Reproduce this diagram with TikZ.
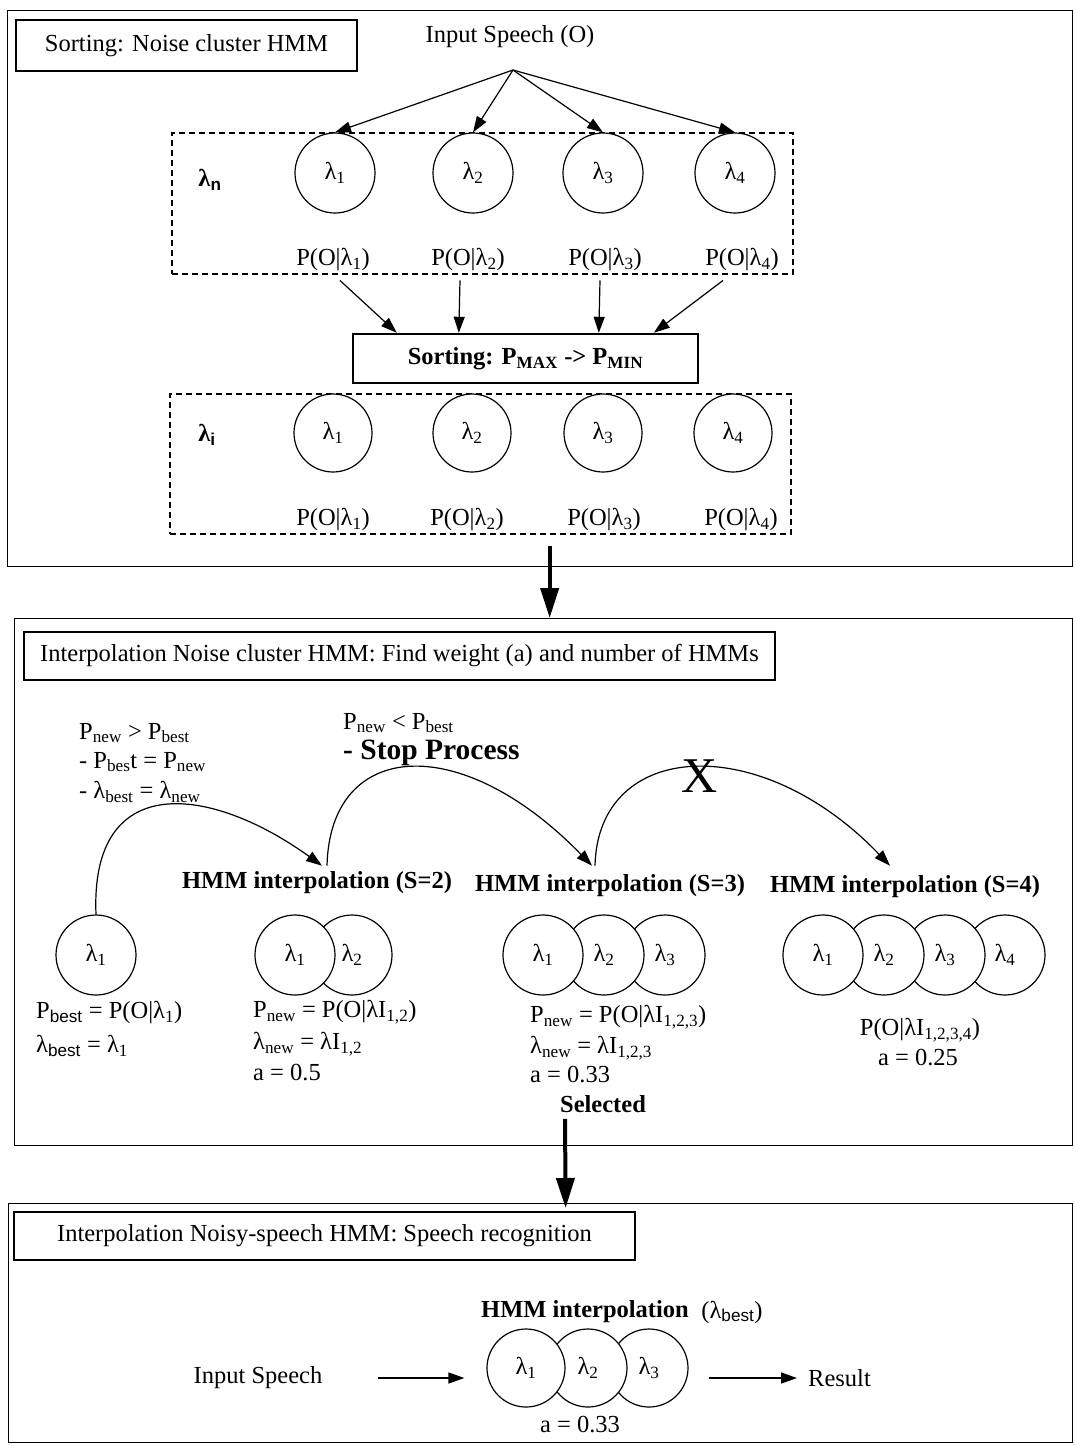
\documentclass[tikz,border=0pt]{standalone}
\usepackage{fontspec}
\setmainfont{Liberation Serif}
\setsansfont{Liberation Sans}
\usetikzlibrary{arrows.meta}
\newcommand\sub[1]{\textsubscript{#1}}
\newcommand\ssub[1]{\textsubscript{\sffamily #1}}
\newcommand\basefont{\fontsize{24.5}{29}\selectfont}

\begin{document}
\begin{tikzpicture}[x=1pt,y=-1pt,
  font=\basefont,
  every node/.style={inner sep=0pt},
  sec/.style={draw, line width=1.3pt, anchor=north west},
  titlebox/.style={draw, line width=2.4pt},
  dbox/.style={draw, dash pattern=on 6pt off 4pt, line width=1.2pt},
  hmm/.style={circle, draw, fill=white, line width=1.2pt, minimum size=80pt},
  lbl/.style={anchor=west},
  heading/.style={font=\basefont\bfseries},
  conn/.style={-{Triangle[length=16pt,width=11pt]}, line width=1.2pt},
  bigconn/.style={-{Triangle[length=30pt,width=18pt]}, line width=4pt}]

\fill[white] (0,0) rectangle (1074,1446);
\useasboundingbox (0,0) rectangle (1074,1446);

% ---------- Section 1: sorting the noise cluster HMMs ----------
\node[sec, minimum width=1065pt, minimum height=556pt] (sec1) at (7,10) {};
\node[titlebox, minimum width=341pt, minimum height=51pt] (t1) at (186.5,45.5) {Sorting: Noise cluster HMM};
\node (inspeech) at (510,37) {Input Speech (O)};
\coordinate (src) at (513,70);

\node[dbox, minimum width=621pt, minimum height=141pt] (rowa) at (482.5,203.5) {};
\node[font=\basefont\bfseries] (lamn) at (210,180) {λ\textsubscript{\sffamily n}};
\node[hmm] (na1) at (335,173) {λ\sub{1}};
\node[hmm] (na2) at (473,173) {λ\sub{2}};
\node[hmm] (na3) at (603,173) {λ\sub{3}};
\node[hmm] (na4) at (735,173) {λ\sub{4}};
\node (pa1) at (333,260) {P(O|λ\sub{1})};
\node (pa2) at (468,260) {P(O|λ\sub{2})};
\node (pa3) at (605,260) {P(O|λ\sub{3})};
\node (pa4) at (742,260) {P(O|λ\sub{4})};

\foreach \n in {na1,na2,na3,na4} \draw[conn] (src) -- (\n.north);

\node[titlebox, minimum width=345pt, minimum height=49pt, font=\basefont\bfseries] (sort) at (525.5,358.5)
  {Sorting: P\sub{MAX} -> P\sub{MIN}};

\draw[conn] ([xshift=7pt,yshift=-9pt]pa1.south) -- ([xshift=45pt]sort.north west);
\draw[conn] ([xshift=-8pt,yshift=-9pt]pa2.south) -- ([xshift=107pt]sort.north west);
\draw[conn] ([xshift=-5pt,yshift=-9pt]pa3.south) -- ([xshift=247pt]sort.north west);
\draw[conn] ([xshift=-19pt,yshift=-9pt]pa4.south) -- ([xshift=302pt]sort.north west);

\node[dbox, minimum width=621pt, minimum height=140pt] (rowb) at (480.5,464) {};
\node[font=\basefont\bfseries] (lami) at (207,435) {λ\textsubscript{\sffamily i}};
\node[hmm, minimum size=78pt] (nb1) at (333,433) {λ\sub{1}};
\node[hmm, minimum size=78pt] (nb2) at (472,433) {λ\sub{2}};
\node[hmm, minimum size=78pt] (nb3) at (603,433) {λ\sub{3}};
\node[hmm, minimum size=78pt] (nb4) at (733,433) {λ\sub{4}};
\node (pb1) at (333,520) {P(O|λ\sub{1})};
\node (pb2) at (467,520) {P(O|λ\sub{2})};
\node (pb3) at (604,520) {P(O|λ\sub{3})};
\node (pb4) at (741,520) {P(O|λ\sub{4})};

% ---------- Section 2: interpolation of noise cluster HMMs ----------
\node[sec, minimum width=1058pt, minimum height=527pt] (sec2) at (14,618) {};
\draw[bigconn] ([xshift=9.5pt,yshift=21pt]sec1.south) -- ([xshift=6pt]sec2.north);
\node[titlebox, minimum width=751pt, minimum height=48pt] (t2) at (399.5,656)
  {Interpolation Noise cluster HMM: Find weight (a) and number of HMMs};

\node[lbl] (c1) at (79,733) {P\sub{new} > P\sub{best}};
\node[lbl] (c2) at (79,762) {- P\sub{bes}t = P\sub{new}};
\node[lbl] (c3) at (79,792) {- λ\sub{best} = λ\sub{new}};
\node[lbl] (s1) at (343,723) {P\sub{new} < P\sub{best}};
\node[lbl, font=\fontsize{29.5}{34}\selectfont\bfseries] (s2) at (343,753) {- Stop Process};

\node[heading] (h2) at (317,883) {HMM interpolation (S=2)};
\node[heading] (h3) at (610,886) {HMM interpolation (S=3)};
\node[heading] (h4) at (905,887) {HMM interpolation (S=4)};

% single model
\node[hmm] (sg) at (96,955) {λ\sub{1}};
% S = 2 (each circle drawn over the one to its right)
\node[hmm] (e2) at (352,955) {λ\sub{2}};
\node[hmm] (e1) at (295,955) {λ\sub{1}};
% S = 3
\node[hmm] (f3) at (665,955) {λ\sub{3}};
\node[hmm] (f2) at (604,955) {λ\sub{2}};
\node[hmm] (f1) at (543,955) {λ\sub{1}};
% S = 4
\node[hmm] (g4) at (1005,955) {λ\sub{4}};
\node[hmm] (g3) at (945,955) {λ\sub{3}};
\node[hmm] (g2) at (884,955) {λ\sub{2}};
\node[hmm] (g1) at (823,955) {λ\sub{1}};

% iteration arcs
\draw[conn] (sg.north) .. controls (90,770) and (210,785) .. ([xshift=5pt,yshift=6pt]h2.north);
\draw[conn] ([xshift=10pt,yshift=6pt]h2.north) .. controls (330,740) and (460,730) .. ([xshift=-18pt,yshift=9pt]h3.north);
\draw[conn] ([xshift=-15pt,yshift=9pt]h3.north) .. controls (598,740) and (760,730) .. ([xshift=-15pt,yshift=10pt]h4.north);
\node[font=\fontsize{50}{50}\selectfont] (xmark) at (700,776) {X};

\node[lbl] (q1) at (36,1013) {P\ssub{best} =  P(O|λ\sub{1})};
\node[lbl] (q2) at (36,1046) {λ\ssub{best} = λ\sub{1}};
\node[lbl] (r1) at (253,1012) {P\sub{new} = P(O|λI\sub{1,2})};
\node[lbl] (r2) at (253,1044) {λ\sub{new} = λI\sub{1,2}};
\node[lbl] (r3) at (253,1073) {a = 0.5};
\node[lbl] (u1) at (530,1017) {P\sub{new} = P(O|λI\sub{1,2,3})};
\node[lbl] (u2) at (530,1048) {λ\sub{new} = λI\sub{1,2,3}};
\node[lbl] (u3) at (530,1075) {a = 0.33};
\node (v1) at (920,1030) {P(O|λI\sub{1,2,3,4})};
\node (v2) at (918,1058) {a = 0.25};
\node[heading] (sel) at (603,1104) {Selected};

% ---------- Section 3: speech recognition ----------
\node[sec, minimum width=1064pt, minimum height=239pt] (sec3) at (8,1203) {};
\node[titlebox, minimum width=621pt, minimum height=48pt] (t3) at (324.5,1236)
  {Interpolation Noisy-speech HMM: Speech recognition};
\draw[bigconn] ([xshift=-38pt,yshift=-6pt]sel.south) -- ([xshift=25pt,yshift=-5pt]sec3.north);

\node[heading] (hb) at (585,1312) {HMM interpolation};
\node (hbl) at (732,1312) {(λ\ssub{best})};
\node[hmm, minimum size=78pt] (k3) at (649,1368) {λ\sub{3}};
\node[hmm, minimum size=78pt] (k2) at (588,1368) {λ\sub{2}};
\node[hmm, minimum size=78pt] (k1) at (526,1368) {λ\sub{1}};
\node (in2) at (258,1378) {Input Speech};
\node[lbl] (res) at (808,1378) {Result};
\node (aa) at (580,1425) {a = 0.33};

% horizontal flow through the selected model
\coordinate (k1in) at (in2.east -| k1.west);
\coordinate (k3out) at (res.west -| k3.east);
\draw[conn, line width=1.5pt] ([xshift=56pt]in2.east) -- ([xshift=-22pt]k1in);
\draw[conn, line width=1.5pt] ([xshift=20pt]k3out) -- ([xshift=-11pt]res.west);

\end{tikzpicture}
\end{document}
